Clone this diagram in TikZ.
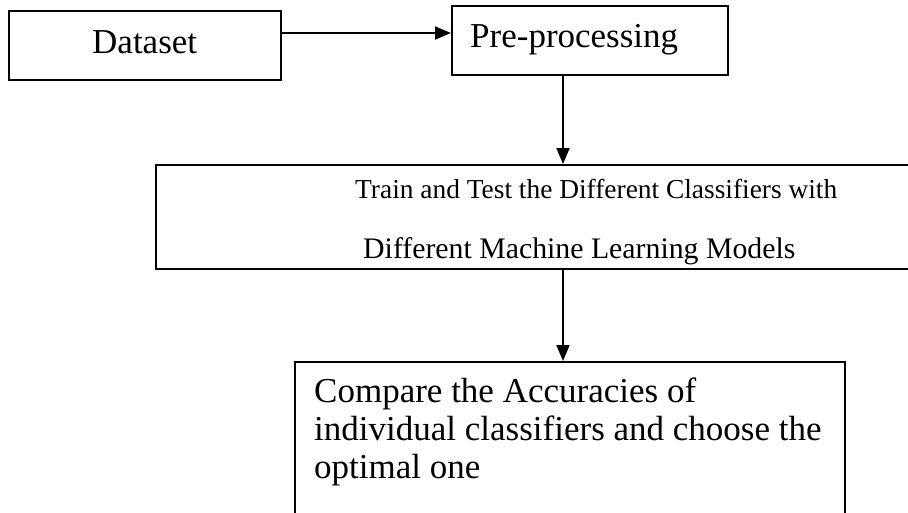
\documentclass[tikz,border=0pt]{standalone}
\usepackage{fontspec}
\setmainfont{Liberation Serif}
\usetikzlibrary{arrows.meta}
\begin{document}
\begin{tikzpicture}[x=1pt,y=-1pt,
  boxnode/.style={draw=black,line width=1.9pt,rectangle,inner sep=0pt,anchor=north west},
  arr/.style={line width=1.9pt,-{Triangle[length=16pt,width=13pt]}},
  txt/.style={anchor=base west,inner sep=0pt},
  big/.style={font=\fontsize{35}{38}\selectfont}]
\useasboundingbox (0,0) rectangle (908,512);
\clip (0,0) rectangle (908,512);
\fill[white] (0,0) rectangle (908,512);
% boxes
\node[boxnode,minimum width=272pt,minimum height=69pt] (data) at (8,10) {};
\node[boxnode,minimum width=276pt,minimum height=69pt] (pre) at (451,5) {};
\node[boxnode,minimum width=765pt,minimum height=104pt] (train) at (155,164) {};
\node[boxnode,minimum width=550pt,minimum height=170pt] (cmp) at (294,361) {};
% texts
\node[txt,big] (tdata) at (92,53) {Dataset};
\node[txt,big] (tpre) at (470,47) {Pre-processing};
\node[txt,font=\fontsize{27.4}{30}\selectfont] (ttrain1) at (355,198) {Train and Test the Different Classifiers with};
\node[txt,font=\fontsize{29.8}{32}\selectfont] (ttrain2) at (363,258) {Different Machine Learning Models};
\node[txt,big] (tc1) at (314,402) {Compare the Accuracies of};
\node[txt,big] (tc2) at (314,440) {individual classifiers and choose the};
\node[txt,big] (tc3) at (314,478) {optimal one};
% connectors
\coordinate (ay) at (0,33);
\coordinate (ax) at (563,0);
\draw[arr] (data.east |- ay) -- (pre.west |- ay);
\draw[arr] (pre.south -| ax) -- (train.north -| ax);
\draw[arr] (train.south -| ax) -- (cmp.north -| ax);
\end{tikzpicture}
\end{document}
